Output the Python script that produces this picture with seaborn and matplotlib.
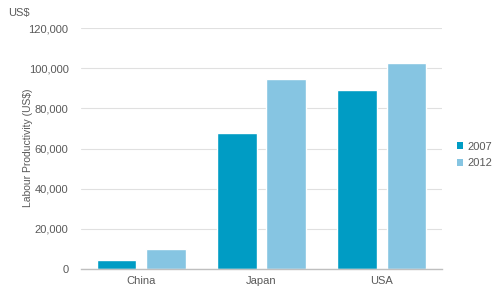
import matplotlib
matplotlib.use("Agg")
import matplotlib.pyplot as plt
import seaborn as sns
import pandas as pd
from matplotlib.patches import Patch

countries = ["China", "Japan", "USA"]
years = ["2007", "2012"]
values_2007 = [4500, 67500, 89000]
values_2012 = [10000, 94500, 102500]
yticks = [0, 20000, 40000, 60000, 80000, 100000, 120000]
colors = ["#009CC4", "#86C5E2"]

df = pd.DataFrame({
    "country": countries * 2,
    "year": [years[0]] * 3 + [years[1]] * 3,
    "value": values_2007 + values_2012,
})

sns.set_theme(style="white")
plt.rcParams["font.family"] = ["Liberation Sans", "DejaVu Sans"]

fig = plt.figure(figsize=(5, 2.96), dpi=100)
ax = fig.add_axes([0.162, 0.0912, 0.722, 0.814])
sns.barplot(data=df, x="country", y="value", hue="year", palette=colors,
            width=0.82, gap=0.19, ax=ax, legend=False, saturation=1)

ax.set_ylim(0, 120000)
ax.set_xlim(-0.5, 2.5)
ax.set_yticks(yticks)
ax.set_yticklabels([f"{v:,}" for v in yticks])
ax.yaxis.grid(True, color="#E0E0E0", linewidth=0.8)
ax.set_axisbelow(True)
for s in ["top", "right", "left"]:
    ax.spines[s].set_visible(False)
ax.spines["bottom"].set_color("#BFBFBF")
ax.spines["bottom"].set_linewidth(1)
ax.tick_params(axis="both", length=0, labelsize=8, labelcolor="#595959")
ax.tick_params(axis="y", pad=9)
ax.tick_params(axis="x", pad=5)
ax.set_xlabel("")
ax.set_ylabel("Labour Productivity (US$)", fontsize=7.5, color="#595959")
# place the label centre at x≈28px, y≈148px of the figure
bb = ax.get_position()
lx = (28 / 500 - bb.x0) / bb.width
ly = ((1 - 148 / 296) - bb.y0) / bb.height
ax.yaxis.set_label_coords(lx, ly)
ax.yaxis.label.set_va("center")
fig.text(8 / 500, 1 - 13 / 296, "US$", fontsize=8, color="#595959", va="center", ha="left")

handles = [Patch(facecolor=c, edgecolor="none") for c in colors]
leg = fig.legend(handles, years, loc="center left", bbox_to_anchor=(451 / 500, 1 - 155 / 296),
                 frameon=False, fontsize=8, handlelength=0.6, handleheight=0.6,
                 handletextpad=0.4, labelspacing=0.6, borderpad=0)
for t in leg.get_texts():
    t.set_color("#595959")

fig.savefig("out.png", dpi=100)
